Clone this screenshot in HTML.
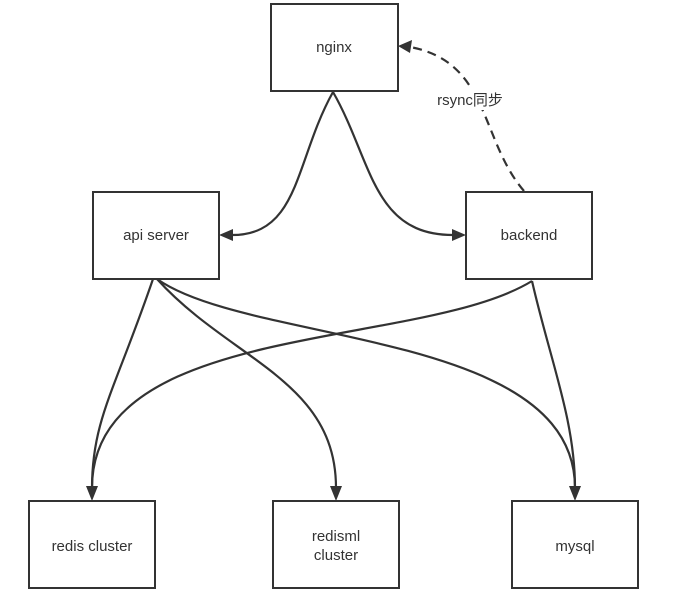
<!DOCTYPE html>
<html><head><meta charset="utf-8"><style>
body{margin:0;background:#fff;}
svg{display:block;}
text{font-family:"Liberation Sans","Noto Sans CJK SC",sans-serif;font-size:15px;fill:#333;}
</style></head><body>
<svg width="678" height="599" viewBox="0 0 678 599" xmlns="http://www.w3.org/2000/svg">
<g fill="none" stroke="#333" stroke-width="2.2">
<path d="M333,92 C295,160 300,235 232,235"/>
<path d="M333,92 C372,160 372,235 453,235"/>
<path d="M524,191 C480,140 490,62 410,47" stroke-dasharray="9,6"/>
<path d="M153,279 C115,390 92,420 92,488"/>
<path d="M157,279 C230,360 336,380 336,488"/>
<path d="M157,279 C250,345 575,330 575,488"/>
<path d="M532,281 C420,350 92,320 92,488"/>
<path d="M532,281 C550,360 575,420 575,488"/>
</g>
<g fill="#333">
<path d="M219,235 L233,229 L233,241 Z"/>
<path d="M466,235 L452,229 L452,241 Z"/>
<path d="M398,46 L412,40 L410,53 Z"/>
<path d="M92,501 L86,486 L98,486 Z"/>
<path d="M336,501 L330,486 L342,486 Z"/>
<path d="M575,501 L569,486 L581,486 Z"/>
</g>
<rect x="431" y="88" width="80" height="22" fill="#fff"/>
<text x="470" y="105" text-anchor="middle">rsync同步</text>
<g fill="#fff" stroke="#333" stroke-width="2">
<rect x="271" y="4" width="127" height="87"/>
<rect x="93" y="192" width="126" height="87"/>
<rect x="466" y="192" width="126" height="87"/>
<rect x="29" y="501" width="126" height="87"/>
<rect x="273" y="501" width="126" height="87"/>
<rect x="512" y="501" width="126" height="87"/>
</g>
<g text-anchor="middle">
<text x="334" y="52">nginx</text>
<text x="156" y="240">api server</text>
<text x="529" y="240">backend</text>
<text x="92" y="551">redis cluster</text>
<text x="336" y="541">redisml</text>
<text x="336" y="560">cluster</text>
<text x="575" y="551">mysql</text>
</g>
</svg>
</body></html>
